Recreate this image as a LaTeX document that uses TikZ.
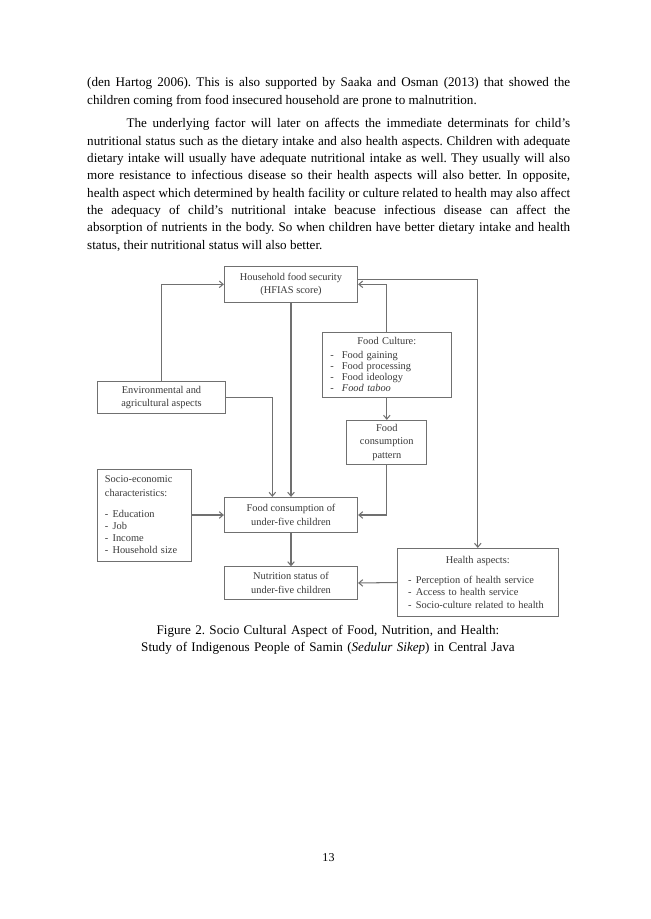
\documentclass[tikz,border=0pt]{standalone}
\usepackage{fontspec}
\setmainfont{Liberation Serif}
\usetikzlibrary{arrows.meta}
\definecolor{framegray}{HTML}{707070}
\definecolor{textgray}{HTML}{3A3A3A}
\frenchspacing
\newcommand\bodyfont{\fontsize{12}{15.85}\selectfont\tolerance=9999\frenchspacing}
\newcommand\boxfont{\fontsize{9.5}{12.2}\selectfont}
\newcommand\dashitem[2][3.8pt]{-\hspace{#1}#2}
\tikzset{block/.style = {rectangle, draw=framegray, line width=0.8pt, text=textgray, font=\boxfont,
		align=center, inner sep=0pt},
	listblock/.style = {block, align=left},
	line/.style      = {draw=framegray, line width=0.95pt, -{Straight Barb[length=3.5pt,width=6pt]}},
	para/.style      = {anchor=base west, inner sep=0pt, text width=442.1pt, align=justify, font=\bodyfont}
}
\begin{document}
\begin{tikzpicture}[x=0.9154pt, y=-0.9154pt]
	\fill[white] (0,0) rectangle (650,919);
	\useasboundingbox (0,0) rectangle (650,919);
	% text of the page
	\node [para] (par1) at (87,87) {(den Hartog 2006). This is also supported by Saaka and Osman (2013) that showed the\linebreak
		children coming from food insecured household are prone to malnutrition.};
	\node [para] (par2) at (87,128) {\hspace*{36pt}The underlying factor will later on affects the immediate determinats for child’s\linebreak
		nutritional status such as the dietary intake and also health aspects. Children with adequate\linebreak
		dietary intake will usually have adequate nutritional intake as well. They usually will also\linebreak
		more resistance to infectious disease so their health aspects will also better. In opposite,\linebreak
		health aspect which determined by health facility or culture related to health may also affect\linebreak
		the adequacy of child’s nutritional intake beacuse infectious disease can affect the\linebreak
		absorption of nutrients in the body. So when children have better dietary intake and health\linebreak
		status, their nutritional status will also better.};
	% boxes
	\node [block, minimum width=122.1pt, minimum height=32.3pt] (fs) at (291,284.3) {Household food security\\(HFIAS score)};
	\node [listblock, text width=103.5pt, minimum width=117.5pt, minimum height=59.5pt,
		font=\fontsize{9.5}{10.2}\selectfont] (cult) at (386.8,364.8) {\makebox[\linewidth]{Food Culture:}\\[2pt]
		\dashitem[7.5pt]{Food gaining}\\ \dashitem[7.5pt]{Food processing}\\ \dashitem[7.5pt]{Food ideology}\\
		\dashitem[7.5pt]{\textit{Food taboo}}};
	\node [block, minimum width=117.5pt, minimum height=29.7pt] (env) at (161.5,397.5) {Environmental and\\agricultural aspects};
	\node [block, minimum width=73.2pt, minimum height=40.3pt] (pat) at (386.8,442.3) {Food\\consumption\\pattern};
	\node [listblock, text width=72.4pt, minimum width=86.4pt, minimum height=84.2pt,
		font=\fontsize{9.5}{11.2}\selectfont] (soc) at (144.5,515) {Socio-economic\\[1pt]characteristics:\\[8pt]
		\dashitem{Education}\\ \dashitem{Job}\\ \dashitem{Income}\\ \dashitem{Household size}};
	\node [block, minimum width=122.1pt, minimum height=32.4pt] (cons) at (291,515) {Food consumption of\\under-five children};
	\node [block, minimum width=122.1pt, minimum height=29.8pt] (nut) at (291,583) {Nutrition status of\\under-five children};
	\node [listblock, text width=127.4pt, minimum width=147.4pt, minimum height=62.6pt,
		font=\fontsize{9.5}{11.2}\selectfont] (hlth) at (477.8,582.5) {\makebox[\linewidth]{Health aspects:}\\[7pt]
		\dashitem{Perception of health service}\\ \dashitem{Access to health service}\\
		\dashitem{Socio-culture related to health}};
	% connectors
	\path[line] (env.north) |- (fs.west);
	\path[line] (cult.north) |- (fs.east);
	\path[line] ([yshift=4.8pt]fs.east) -| (hlth.north);
	\path[line] (fs.south) -- (cons.north);
	\path[line] (env.east) -| ([xshift=-17.1pt]cons.north);
	\path[line] (cult.south) -- (pat.north);
	\path[line] (pat.south) |- (cons.east);
	\path[line] (soc.east) -- (cons.west);
	\path[line] (cons.south) -- (nut.north);
	\path[line] (hlth.west) -- (nut.east);
	% caption and page number
	\node [anchor=base, inner sep=0pt, text width=420pt, align=center, font=\fontsize{12}{15.6}\selectfont\frenchspacing] (cap) at (328,634)
		{Figure 2. Socio Cultural Aspect of Food, Nutrition, and Health:\\
		Study of Indigenous People of Samin (\textit{Sedulur Sikep}) in Central Java};
	\node [anchor=base, inner sep=0pt, font=\fontsize{11}{13}\selectfont] (pgno) at (328.5,861) {13};
\end{tikzpicture}
\end{document}
